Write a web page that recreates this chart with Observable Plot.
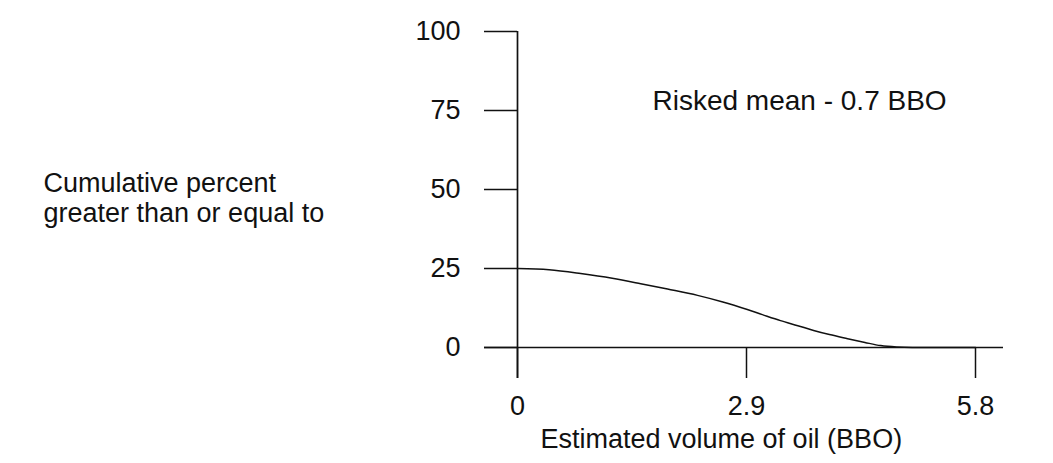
<!DOCTYPE html>
<html>
<head>
<meta charset="utf-8">
<script src="https://cdn.jsdelivr.net/npm/d3@7"></script>
<script src="https://cdn.jsdelivr.net/npm/@observablehq/plot@0.6"></script>
<style>
  html, body { margin: 0; padding: 0; background: #fff; }
  #chart svg { display: block; }
</style>
</head>
<body>
<div id="chart"></div>
<script>
// Estimated volume of oil (BBO)
const volume = [0, 0.4, 0.8, 1.2, 1.56, 1.9, 2.28, 2.6, 2.91, 3.1, 3.33, 3.55, 3.75, 3.95, 4.18, 4.4, 4.6, 4.8, 5.0, 5.8];
// Cumulative percent greater than or equal to
const percent = [25, 24.6, 23.4, 21.9, 20.2, 18.5, 16.5, 14.4, 12.0, 10.4, 8.5, 6.9, 5.4, 4.1, 2.8, 1.6, 0.6, 0.15, 0, 0];

const xTicks = [0, 2.9, 5.8];
const xTickLabels = ["0", "2.9", "5.8"];
const yTicks = [0, 25, 50, 75, 100];

const yLabel = "Cumulative percent\ngreater than or equal to";
const xLabel = "Estimated volume of oil (BBO)";
const note = "Risked mean - 0.7 BBO";

const data = volume.map((v, i) => ({volume: v, percent: percent[i]}));

const font = "Liberation Sans, Arial, Helvetica, sans-serif";
const ink = "#111";

const chart = Plot.plot({
  width: 1053,
  height: 463,
  marginLeft: 517,
  marginRight: 78,
  marginTop: 31,
  marginBottom: 116,
  style: {fontFamily: font, fontSize: "27px", color: ink, background: "#fff"},
  x: {domain: [0, 5.8], axis: null},
  y: {domain: [0, 100], axis: null},
  marks: [
    // x axis baseline, extending a little past the frame on both sides
    Plot.ruleY([0], {stroke: ink, strokeWidth: 1.3, insetLeft: -33, insetRight: -28}),
    // y axis line, continuing below the baseline
    Plot.ruleX([0], {stroke: ink, strokeWidth: 1.7, insetBottom: -31}),
    Plot.axisY({ticks: yTicks, tickSize: 33, tickPadding: 24, tickFormat: d => String(d), stroke: ink, strokeWidth: 1.3, fontSize: 27, label: null}),
    Plot.axisX({ticks: xTicks, tickSize: 31, tickPadding: 17, tickFormat: (d, i) => xTickLabels[i], stroke: ink, strokeWidth: 1.5, fontSize: 27, label: null}),
    Plot.line(data, {x: "volume", y: "percent", stroke: ink, strokeWidth: 1.5, curve: "monotone-x"}),
    Plot.text([xLabel], {frameAnchor: "bottom-left", dx: 23, dy: 100, textAnchor: "start", fontSize: 27, fill: ink}),
    Plot.text([note], {frameAnchor: "top-left", dx: 135, dy: 59, textAnchor: "start", fontSize: 28, fill: ink}),
    Plot.text([yLabel], {frameAnchor: "left", dx: -474, dy: 8, textAnchor: "start", fontSize: 27, lineHeight: 1.11, fill: ink})
  ]
});

document.getElementById("chart").appendChild(chart);
</script>
</body>
</html>
